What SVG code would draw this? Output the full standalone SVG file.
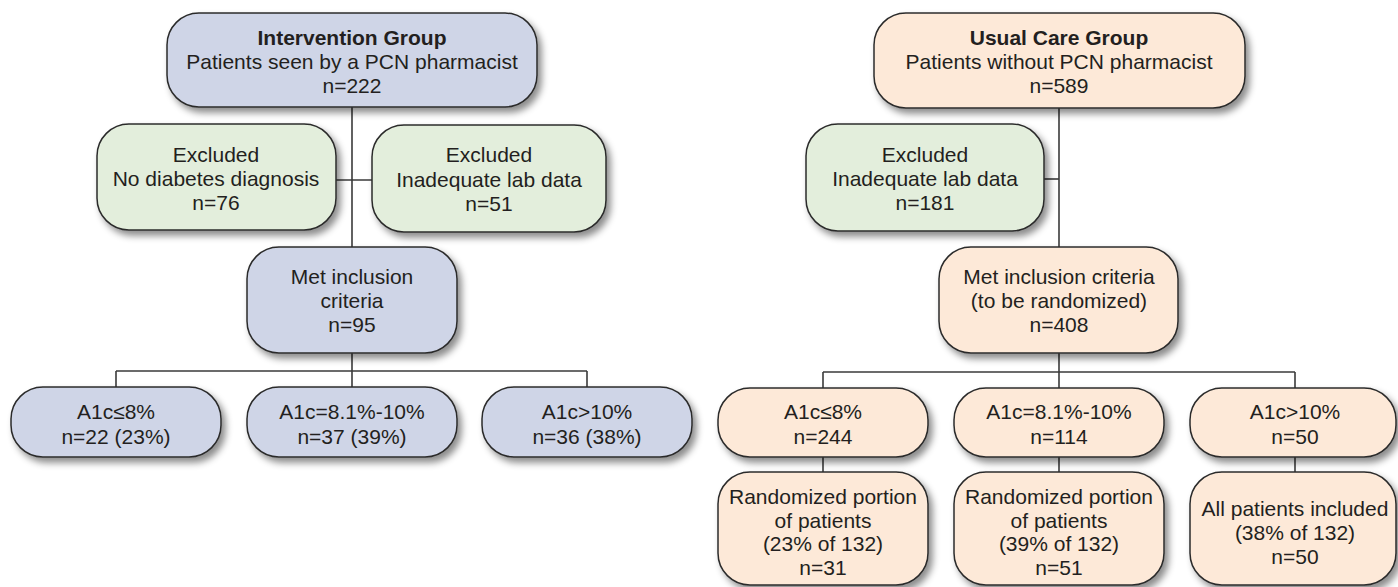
<svg xmlns="http://www.w3.org/2000/svg" width="1398" height="587" viewBox="0 0 1398 587">
<defs>
<filter id="sh" x="-10%" y="-10%" width="125%" height="135%">
<feDropShadow dx="4" dy="5" stdDeviation="3.5" flood-color="#000" flood-opacity="0.45"/>
</filter>
<style>
.box{stroke:#2b2b2b;stroke-width:1.5;filter:url(#sh)}
.blue{fill:#cfd5e7}
.green{fill:#e3eedc}
.peach{fill:#fde9d8}
text{font-family:"Liberation Sans",Arial,sans-serif;font-size:21px;fill:#231f20;text-anchor:middle}
.b{font-weight:bold}
.conn line{stroke:#3a3a3a;stroke-width:1.6}
</style>
</defs>
<rect width="1398" height="587" fill="#fff"/>
<g class="conn">
<line x1="352" y1="107" x2="352" y2="247"/>
<line x1="336" y1="180" x2="372" y2="180"/>
<line x1="352" y1="353" x2="352" y2="387"/>
<line x1="116" y1="371" x2="587" y2="371"/>
<line x1="116" y1="371" x2="116" y2="387"/>
<line x1="587" y1="371" x2="587" y2="387"/>
<line x1="1059" y1="108" x2="1059" y2="247"/>
<line x1="1044" y1="179" x2="1059" y2="179"/>
<line x1="1059" y1="353" x2="1059" y2="388"/>
<line x1="823" y1="372" x2="1295" y2="372"/>
<line x1="823" y1="372" x2="823" y2="388"/>
<line x1="1295" y1="372" x2="1295" y2="388"/>
<line x1="823" y1="457" x2="823" y2="472"/>
<line x1="1059" y1="457" x2="1059" y2="472"/>
<line x1="1295" y1="457" x2="1295" y2="472"/>
</g>
<g id="intervention">
<rect class="box blue" x="167" y="13" width="370" height="94" rx="32"/>
<text x="352" y="45" class="b">Intervention Group</text>
<text x="352" y="69">Patients seen by a PCN pharmacist</text>
<text x="352" y="93">n=222</text>
</g>
<g id="excl-nodiab">
<rect class="box green" x="97" y="124" width="239" height="106" rx="32"/>
<text x="216" y="162">Excluded</text>
<text x="216" y="186">No diabetes diagnosis</text>
<text x="216" y="210">n=76</text>
</g>
<g id="excl-lab-left">
<rect class="box green" x="372" y="125" width="234" height="107" rx="32"/>
<text x="489" y="162">Excluded</text>
<text x="489" y="187">Inadequate lab data</text>
<text x="489" y="211">n=51</text>
</g>
<g id="met-left">
<rect class="box blue" x="247" y="247" width="210" height="106" rx="32"/>
<text x="352" y="284">Met inclusion</text>
<text x="352" y="308">criteria</text>
<text x="352" y="332">n=95</text>
</g>
<g id="a1c-low-left">
<rect class="box blue" x="11" y="387" width="210" height="70" rx="32"/>
<text x="116" y="419">A1c≤8%</text>
<text x="116" y="444">n=22 (23%)</text>
</g>
<g id="a1c-mid-left">
<rect class="box blue" x="247" y="387" width="210" height="70" rx="32"/>
<text x="352" y="419">A1c=8.1%-10%</text>
<text x="352" y="444">n=37 (39%)</text>
</g>
<g id="a1c-high-left">
<rect class="box blue" x="482" y="387" width="210" height="70" rx="32"/>
<text x="587" y="419">A1c&gt;10%</text>
<text x="587" y="444">n=36 (38%)</text>
</g>
<g id="usual">
<rect class="box peach" x="874" y="13" width="371" height="95" rx="32"/>
<text x="1059" y="45" class="b">Usual Care Group</text>
<text x="1059" y="69">Patients without PCN pharmacist</text>
<text x="1059" y="93">n=589</text>
</g>
<g id="excl-lab-right">
<rect class="box green" x="806" y="124" width="238" height="107" rx="32"/>
<text x="925" y="162">Excluded</text>
<text x="925" y="186">Inadequate lab data</text>
<text x="925" y="210">n=181</text>
</g>
<g id="met-right">
<rect class="box peach" x="939" y="247" width="239" height="106" rx="32"/>
<text x="1059" y="284">Met inclusion criteria</text>
<text x="1059" y="308">(to be randomized)</text>
<text x="1059" y="332">n=408</text>
</g>
<g id="a1c-low-right">
<rect class="box peach" x="718" y="388" width="210" height="69" rx="32"/>
<text x="823" y="419">A1c≤8%</text>
<text x="823" y="444">n=244</text>
</g>
<g id="a1c-mid-right">
<rect class="box peach" x="954" y="388" width="210" height="69" rx="32"/>
<text x="1059" y="419">A1c=8.1%-10%</text>
<text x="1059" y="444">n=114</text>
</g>
<g id="a1c-high-right">
<rect class="box peach" x="1190" y="388" width="206" height="69" rx="32"/>
<text x="1295" y="419">A1c&gt;10%</text>
<text x="1295" y="444">n=50</text>
</g>
<g id="rand-low">
<rect class="box peach" x="718" y="472" width="210" height="113" rx="32"/>
<text x="823" y="504">Randomized portion</text>
<text x="823" y="528">of patients</text>
<text x="823" y="551">(23% of 132)</text>
<text x="823" y="575">n=31</text>
</g>
<g id="rand-mid">
<rect class="box peach" x="954" y="472" width="210" height="113" rx="32"/>
<text x="1059" y="504">Randomized portion</text>
<text x="1059" y="528">of patients</text>
<text x="1059" y="551">(39% of 132)</text>
<text x="1059" y="575">n=51</text>
</g>
<g id="all-high">
<rect class="box peach" x="1190" y="472" width="206" height="113" rx="32"/>
<text x="1295" y="516">All patients included</text>
<text x="1295" y="540">(38% of 132)</text>
<text x="1295" y="564">n=50</text>
</g>
</svg>
